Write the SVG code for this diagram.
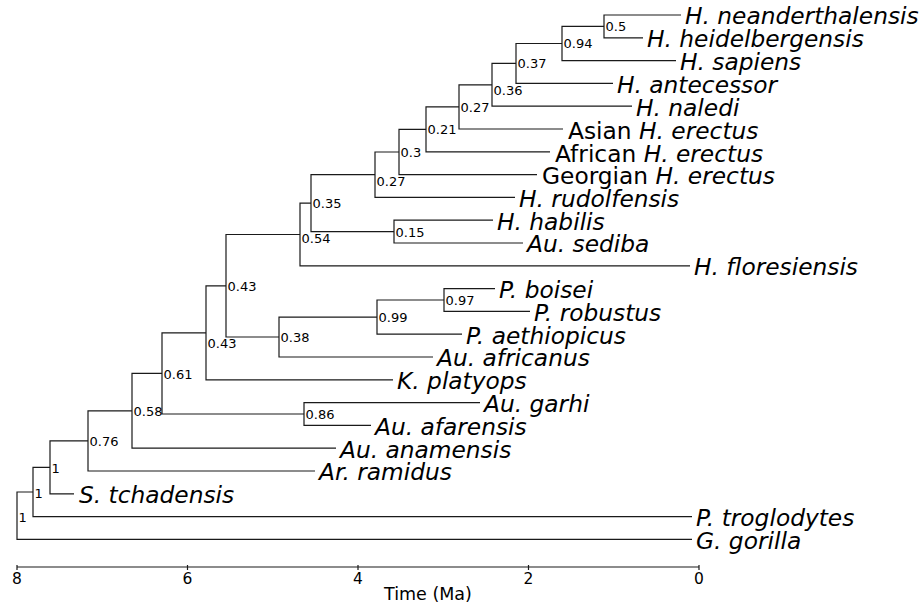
<svg xmlns="http://www.w3.org/2000/svg" width="924" height="603" viewBox="0 0 924 603">
<style>
  .e { fill: none; stroke: #1a1a1a; stroke-width: 1.2; }
  .leaf { font-family: "DejaVu Sans", sans-serif; font-size: 23.3px; font-style: italic; fill: #000; }
  .up { font-style: normal; }
  .sup { font-family: "DejaVu Sans", sans-serif; font-size: 13px; fill: #000; }
  .tick { font-family: "DejaVu Sans", sans-serif; font-size: 15.5px; fill: #000; text-anchor: middle; }
  .axl { font-family: "DejaVu Sans", sans-serif; font-size: 17.5px; fill: #000; }
</style>
<rect width="924" height="603" fill="#fff"/>
<g id="connectors">
  <path class="e" d="M681 15 H604 V37.8 H643"/>
  <path class="e" d="M604 26.4 H562 V60.6 H676"/>
  <path class="e" d="M562 43.5 H516 V83.4 H613"/>
  <path class="e" d="M516 63.45 H492 V106.2 H632"/>
  <path class="e" d="M492 84.8 H459 V129 H563"/>
  <path class="e" d="M459 106.9 H426 V151.8 H550"/>
  <path class="e" d="M426 129.35 H399 V174.6 H537"/>
  <path class="e" d="M399 152 H375 V197.4 H515"/>
  <path class="e" d="M493 220.2 H394 V243 H523"/>
  <path class="e" d="M375 174.7 H311 V231.6 H394"/>
  <path class="e" d="M311 203.15 H300 V265.8 H690"/>
  <path class="e" d="M495 288.6 H444 V311.4 H530"/>
  <path class="e" d="M444 300 H377 V334.2 H462"/>
  <path class="e" d="M377 317.1 H279 V357 H433"/>
  <path class="e" d="M300 234.5 H226 V337 H279"/>
  <path class="e" d="M226 285.8 H206 V379.8 H393"/>
  <path class="e" d="M480 402.6 H304 V425.4 H371"/>
  <path class="e" d="M206 332.8 H162 V414 H304"/>
  <path class="e" d="M162 373.4 H132 V448.2 H336"/>
  <path class="e" d="M132 410.8 H88 V471 H315"/>
  <path class="e" d="M88 440.9 H50 V493.8 H74"/>
  <path class="e" d="M50 467.35 H33 V516.6 H692"/>
  <path class="e" d="M33 492 H17 V539.4 H692"/>
</g>
<g id="leaves">
  <g id="leaf-neanderthalensis"><text class="leaf" x="685" y="24.3">H. neanderthalensis</text></g>
  <g id="leaf-heidelbergensis"><text class="leaf" x="647" y="47.1">H. heidelbergensis</text></g>
  <g id="leaf-sapiens"><text class="leaf" x="680" y="69.9">H. sapiens</text></g>
  <g id="leaf-antecessor"><text class="leaf" x="617" y="92.7">H. antecessor</text></g>
  <g id="leaf-naledi"><text class="leaf" x="636" y="115.5">H. naledi</text></g>
  <g id="leaf-asian-erectus"><text class="leaf" x="568" y="138.8"><tspan class="up">Asian </tspan>H. erectus</text></g>
  <g id="leaf-african-erectus"><text class="leaf" x="555" y="161.6"><tspan class="up">African </tspan>H. erectus</text></g>
  <g id="leaf-georgian-erectus"><text class="leaf" x="542" y="184.4"><tspan class="up">Georgian </tspan>H. erectus</text></g>
  <g id="leaf-rudolfensis"><text class="leaf" x="519" y="206.7">H. rudolfensis</text></g>
  <g id="leaf-habilis"><text class="leaf" x="497" y="229.5">H. habilis</text></g>
  <g id="leaf-sediba"><text class="leaf" x="527" y="252.3">Au. sediba</text></g>
  <g id="leaf-floresiensis"><text class="leaf" x="694" y="275.1">H. floresiensis</text></g>
  <g id="leaf-boisei"><text class="leaf" x="499" y="297.9">P. boisei</text></g>
  <g id="leaf-robustus"><text class="leaf" x="534" y="320.7">P. robustus</text></g>
  <g id="leaf-aethiopicus"><text class="leaf" x="466" y="343.5">P. aethiopicus</text></g>
  <g id="leaf-africanus"><text class="leaf" x="437" y="366.3">Au. africanus</text></g>
  <g id="leaf-platyops"><text class="leaf" x="397" y="389.1">K. platyops</text></g>
  <g id="leaf-garhi"><text class="leaf" x="484" y="411.9">Au. garhi</text></g>
  <g id="leaf-afarensis"><text class="leaf" x="375" y="434.7">Au. afarensis</text></g>
  <g id="leaf-anamensis"><text class="leaf" x="340" y="457.5">Au. anamensis</text></g>
  <g id="leaf-ramidus"><text class="leaf" x="319" y="480.3">Ar. ramidus</text></g>
  <g id="leaf-tchadensis"><text class="leaf" x="79" y="503.1">S. tchadensis</text></g>
  <g id="leaf-troglodytes"><text class="leaf" x="696" y="525.9">P. troglodytes</text></g>
  <g id="leaf-gorilla"><text class="leaf" x="696" y="548.7">G. gorilla</text></g>
</g>
<g id="internal-nodes">
  <g id="node-0.5"><text class="sup" x="605.5" y="31.3">0.5</text></g>
  <g id="node-0.94"><text class="sup" x="563.5" y="48.3">0.94</text></g>
  <g id="node-0.37"><text class="sup" x="517.5" y="68.3">0.37</text></g>
  <g id="node-0.36"><text class="sup" x="493.5" y="94.8">0.36</text></g>
  <g id="node-0.27a"><text class="sup" x="460.5" y="112.3">0.27</text></g>
  <g id="node-0.21"><text class="sup" x="427.5" y="134">0.21</text></g>
  <g id="node-0.3"><text class="sup" x="400.5" y="157.3">0.3</text></g>
  <g id="node-0.27b"><text class="sup" x="376.5" y="186.3">0.27</text></g>
  <g id="node-0.15"><text class="sup" x="395.5" y="236.8">0.15</text></g>
  <g id="node-0.35"><text class="sup" x="312.5" y="208.3">0.35</text></g>
  <g id="node-0.54"><text class="sup" x="301.5" y="243.3">0.54</text></g>
  <g id="node-0.97"><text class="sup" x="445.5" y="304.8">0.97</text></g>
  <g id="node-0.99"><text class="sup" x="378.5" y="321.8">0.99</text></g>
  <g id="node-0.38"><text class="sup" x="280.5" y="341.8">0.38</text></g>
  <g id="node-0.43a"><text class="sup" x="227.5" y="290.8">0.43</text></g>
  <g id="node-0.43b"><text class="sup" x="207.5" y="347.8">0.43</text></g>
  <g id="node-0.86"><text class="sup" x="305.5" y="418.8">0.86</text></g>
  <g id="node-0.61"><text class="sup" x="163.5" y="378.5">0.61</text></g>
  <g id="node-0.58"><text class="sup" x="133.5" y="416.3">0.58</text></g>
  <g id="node-0.76"><text class="sup" x="89.5" y="445.8">0.76</text></g>
  <g id="node-1a"><text class="sup" x="51.5" y="473.3">1</text></g>
  <g id="node-1b"><text class="sup" x="34.5" y="498.3">1</text></g>
  <g id="node-1c"><text class="sup" x="18.5" y="521.8">1</text></g>
</g>
<g id="axis">
  <path class="e" d="M17 567 H699 M17 565 V570 M187.5 565 V570 M358 565 V570 M528.5 565 V570 M699 565 V570"/>
  <text class="tick" x="17" y="583.5">8</text>
  <text class="tick" x="187.5" y="583.5">6</text>
  <text class="tick" x="358" y="583.5">4</text>
  <text class="tick" x="528.5" y="583.5">2</text>
  <text class="tick" x="699" y="583.5">0</text>
  <text class="axl" x="384" y="599.5">Time (Ma)</text>
</g>
</svg>
